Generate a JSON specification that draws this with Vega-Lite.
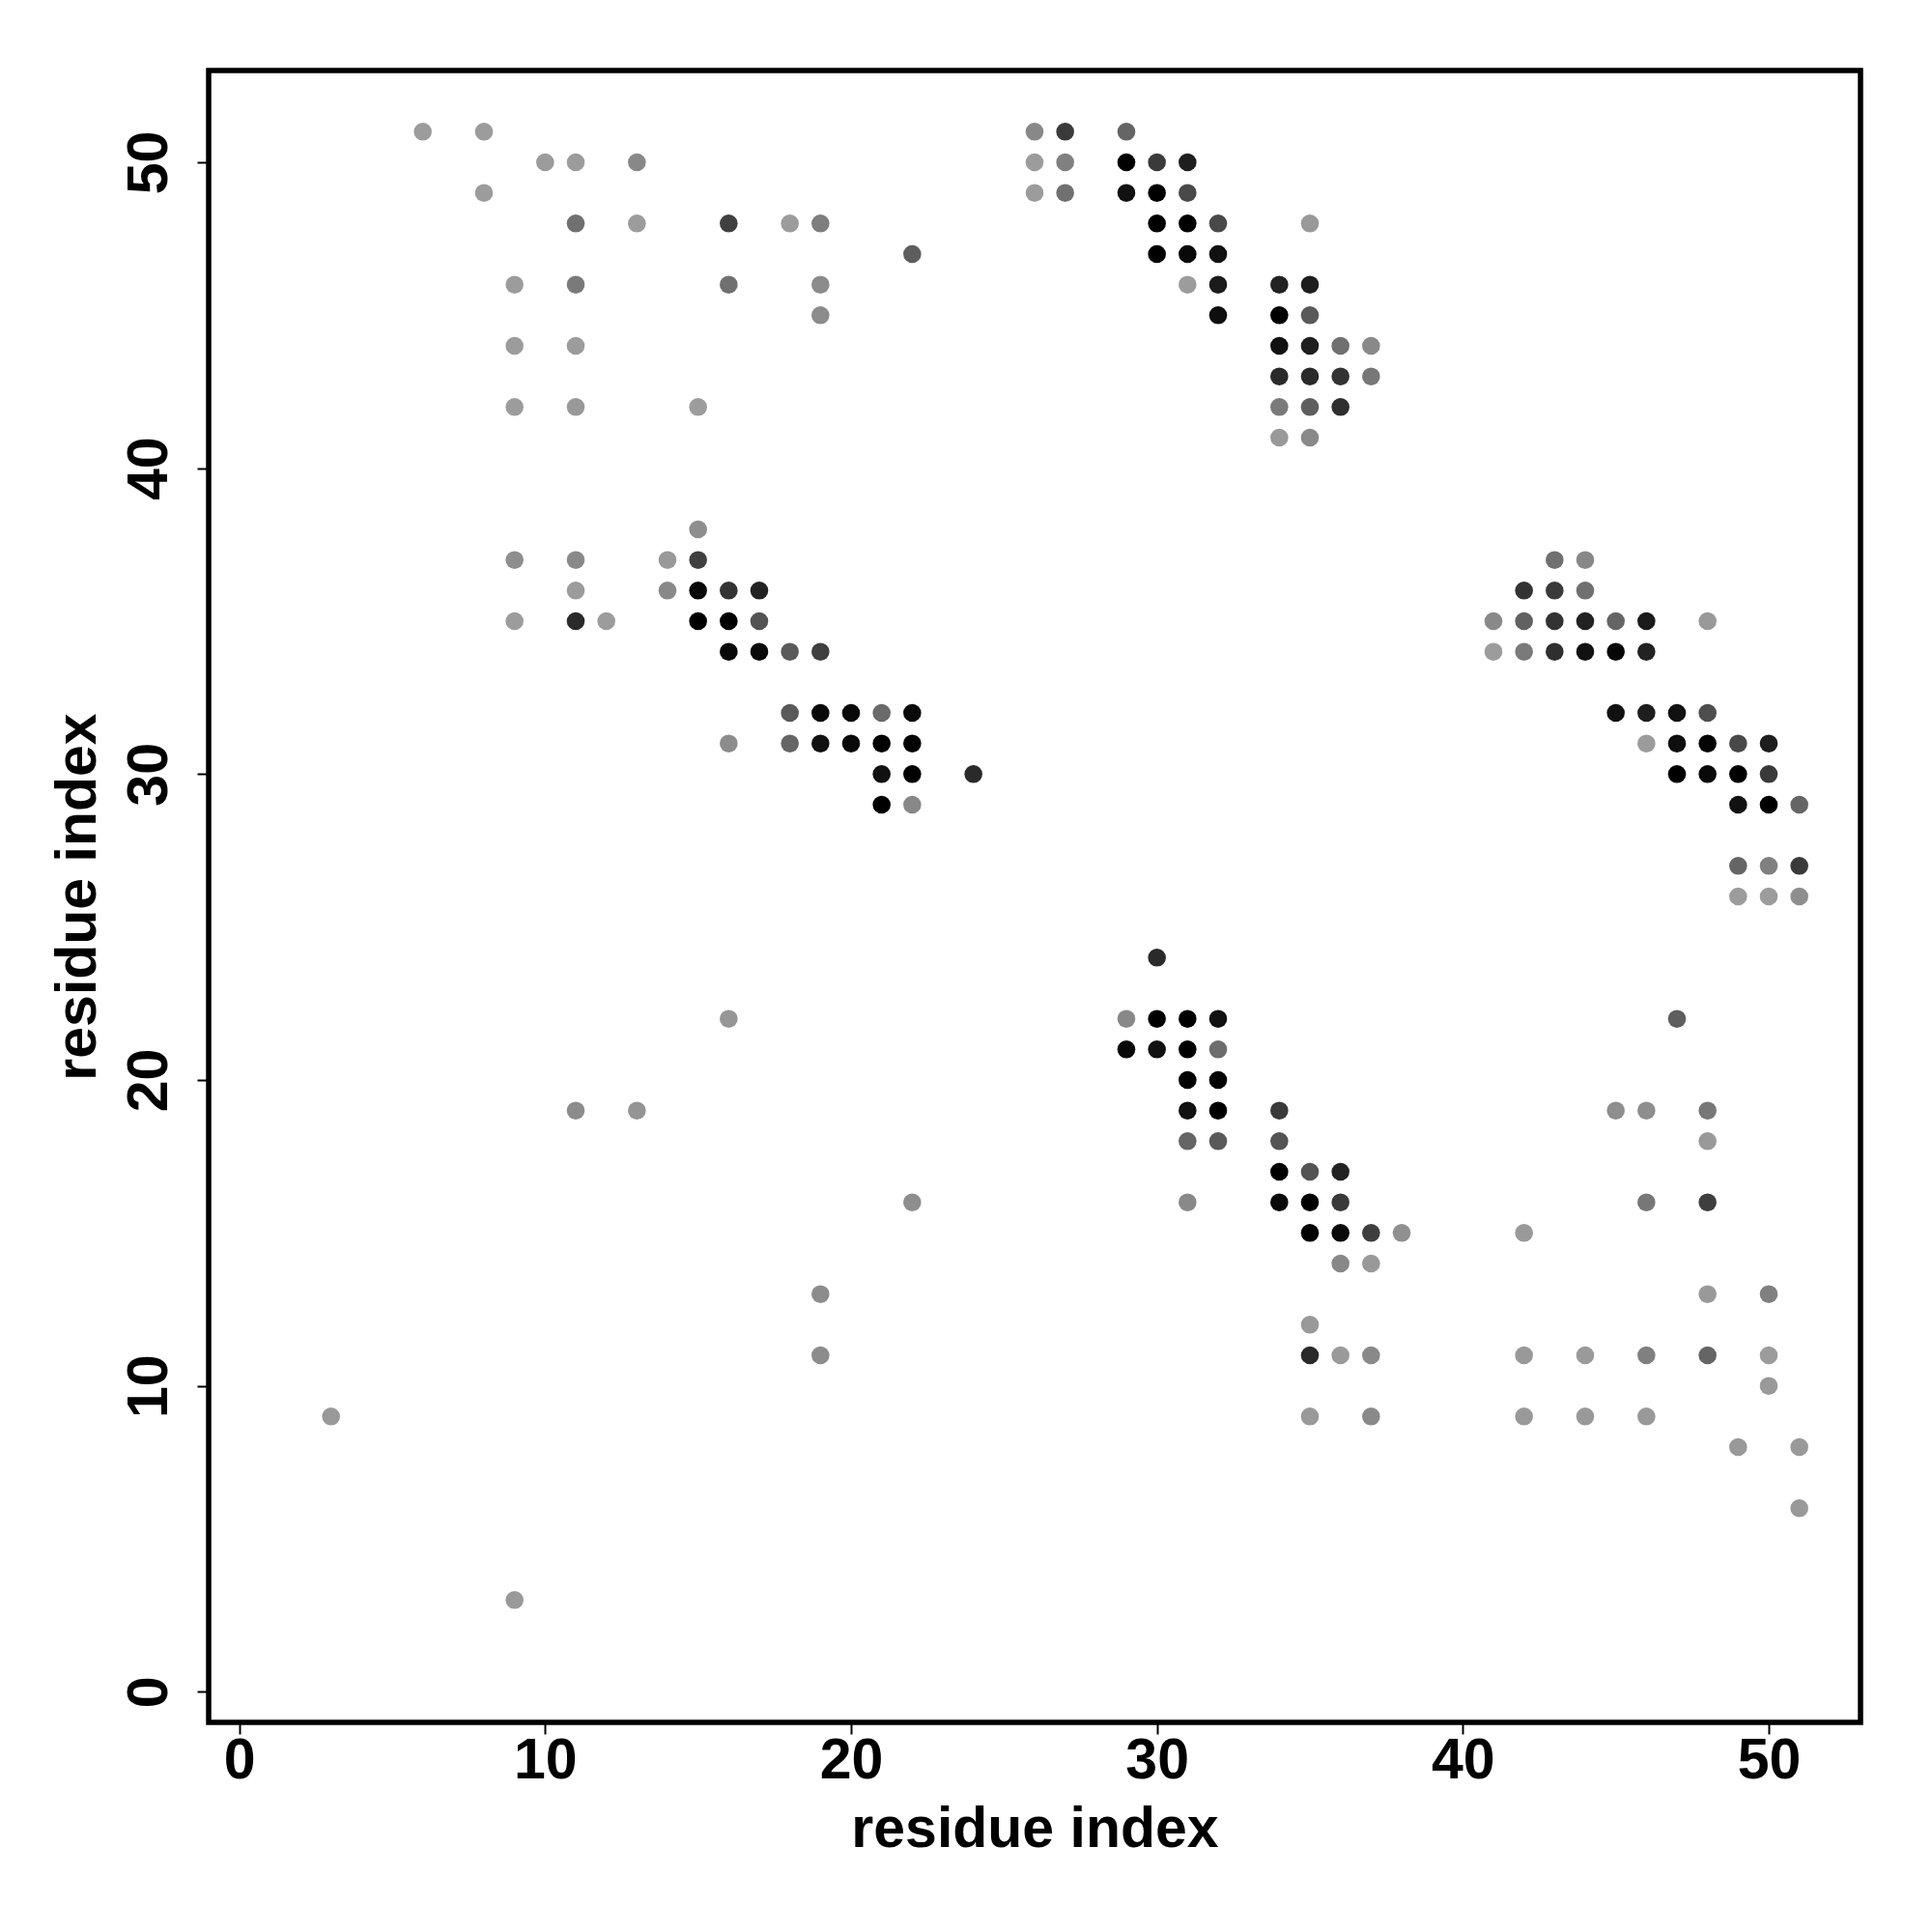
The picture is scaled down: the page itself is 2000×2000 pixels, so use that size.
{
  "$schema": "https://vega.github.io/schema/vega-lite/v6.json",
  "autosize": {"type": "none"},
  "padding": {"left": 216, "top": 73, "right": 74, "bottom": 217},
  "width": 1710,
  "height": 1710,
  "background": "white",
  "config": {
    "font": "Liberation Sans",
    "view": {"stroke": "black", "strokeWidth": 5.5},
    "axis": {
      "grid": false,
      "domain": false,
      "tickColor": "black",
      "tickSize": 12,
      "tickWidth": 2,
      "labelColor": "black",
      "labelFont": "Liberation Sans",
      "labelFontWeight": "bold",
      "labelFontSize": 59,
      "labelFlush": false,
      "labelOverlap": false,
      "titleColor": "black",
      "titleFont": "Liberation Sans",
      "titleFontWeight": "bold",
      "titleFontSize": 59
    }
  },
  "data": {"values": [
    {"x":6,"y":51,"p":0.0},{"x":8,"y":51,"p":0.0},{"x":26,"y":51,"p":0.13},{"x":27,"y":51,"p":0.63},{"x":29,"y":51,"p":0.35},
    {"x":10,"y":50,"p":0.0},{"x":11,"y":50,"p":0.0},{"x":13,"y":50,"p":0.13},{"x":26,"y":50,"p":0.0},{"x":27,"y":50,"p":0.18},{"x":29,"y":50,"p":1.0},{"x":30,"y":50,"p":0.63},{"x":31,"y":50,"p":0.81},
    {"x":8,"y":49,"p":0.0},{"x":26,"y":49,"p":0.0},{"x":27,"y":49,"p":0.28},{"x":29,"y":49,"p":0.89},{"x":30,"y":49,"p":1.0},{"x":31,"y":49,"p":0.53},
    {"x":11,"y":48,"p":0.28},{"x":13,"y":48,"p":0.0},{"x":16,"y":48,"p":0.59},{"x":18,"y":48,"p":0.0},{"x":19,"y":48,"p":0.19},{"x":30,"y":48,"p":1.0},{"x":31,"y":48,"p":1.0},{"x":32,"y":48,"p":0.53},{"x":35,"y":48,"p":0.02},
    {"x":22,"y":47,"p":0.4},{"x":30,"y":47,"p":1.0},{"x":31,"y":47,"p":0.94},{"x":32,"y":47,"p":0.89},
    {"x":9,"y":46,"p":0.0},{"x":11,"y":46,"p":0.22},{"x":16,"y":46,"p":0.28},{"x":19,"y":46,"p":0.1},{"x":31,"y":46,"p":0.0},{"x":32,"y":46,"p":0.83},{"x":34,"y":46,"p":0.78},{"x":35,"y":46,"p":0.81},
    {"x":19,"y":45,"p":0.1},{"x":32,"y":45,"p":0.91},{"x":34,"y":45,"p":1.0},{"x":35,"y":45,"p":0.42},
    {"x":9,"y":44,"p":0.0},{"x":11,"y":44,"p":0.0},{"x":34,"y":44,"p":0.89},{"x":35,"y":44,"p":0.81},{"x":36,"y":44,"p":0.28},{"x":37,"y":44,"p":0.12},
    {"x":34,"y":43,"p":0.73},{"x":35,"y":43,"p":0.73},{"x":36,"y":43,"p":0.67},{"x":37,"y":43,"p":0.24},
    {"x":9,"y":42,"p":0.0},{"x":11,"y":42,"p":0.02},{"x":15,"y":42,"p":0.0},{"x":34,"y":42,"p":0.22},{"x":35,"y":42,"p":0.4},{"x":36,"y":42,"p":0.7},
    {"x":34,"y":41,"p":0.02},{"x":35,"y":41,"p":0.12},
    {"x":15,"y":38,"p":0.09},
    {"x":9,"y":37,"p":0.09},{"x":11,"y":37,"p":0.12},{"x":14,"y":37,"p":0.02},{"x":15,"y":37,"p":0.59},{"x":43,"y":37,"p":0.28},{"x":44,"y":37,"p":0.13},
    {"x":11,"y":36,"p":0.0},{"x":14,"y":36,"p":0.12},{"x":15,"y":36,"p":0.94},{"x":16,"y":36,"p":0.67},{"x":17,"y":36,"p":0.78},{"x":42,"y":36,"p":0.67},{"x":43,"y":36,"p":0.63},{"x":44,"y":36,"p":0.28},
    {"x":9,"y":35,"p":0.0},{"x":11,"y":35,"p":0.73},{"x":12,"y":35,"p":0.0},{"x":15,"y":35,"p":1.0},{"x":16,"y":35,"p":1.0},{"x":17,"y":35,"p":0.46},{"x":41,"y":35,"p":0.12},{"x":42,"y":35,"p":0.38},{"x":43,"y":35,"p":0.67},{"x":44,"y":35,"p":0.78},{"x":45,"y":35,"p":0.35},{"x":46,"y":35,"p":0.83},{"x":48,"y":35,"p":0.02},
    {"x":16,"y":34,"p":0.94},{"x":17,"y":34,"p":0.94},{"x":18,"y":34,"p":0.42},{"x":19,"y":34,"p":0.59},{"x":41,"y":34,"p":0.0},{"x":42,"y":34,"p":0.22},{"x":43,"y":34,"p":0.7},{"x":44,"y":34,"p":0.89},{"x":45,"y":34,"p":0.96},{"x":46,"y":34,"p":0.78},
    {"x":18,"y":32,"p":0.42},{"x":19,"y":32,"p":0.94},{"x":20,"y":32,"p":0.94},{"x":21,"y":32,"p":0.32},{"x":22,"y":32,"p":0.94},{"x":45,"y":32,"p":0.89},{"x":46,"y":32,"p":0.81},{"x":47,"y":32,"p":0.89},{"x":48,"y":32,"p":0.5},
    {"x":16,"y":31,"p":0.1},{"x":18,"y":31,"p":0.35},{"x":19,"y":31,"p":0.89},{"x":20,"y":31,"p":0.94},{"x":21,"y":31,"p":1.0},{"x":22,"y":31,"p":1.0},{"x":46,"y":31,"p":0.0},{"x":47,"y":31,"p":0.91},{"x":48,"y":31,"p":0.97},{"x":49,"y":31,"p":0.53},{"x":50,"y":31,"p":0.81},
    {"x":21,"y":30,"p":0.89},{"x":22,"y":30,"p":1.0},{"x":24,"y":30,"p":0.73},{"x":47,"y":30,"p":1.0},{"x":48,"y":30,"p":0.94},{"x":49,"y":30,"p":1.0},{"x":50,"y":30,"p":0.63},
    {"x":21,"y":29,"p":1.0},{"x":22,"y":29,"p":0.13},{"x":49,"y":29,"p":0.89},{"x":50,"y":29,"p":1.0},{"x":51,"y":29,"p":0.35},
    {"x":49,"y":27,"p":0.35},{"x":50,"y":27,"p":0.18},{"x":51,"y":27,"p":0.63},
    {"x":49,"y":26,"p":0.0},{"x":50,"y":26,"p":0.0},{"x":51,"y":26,"p":0.09},
    {"x":30,"y":24,"p":0.73},
    {"x":16,"y":22,"p":0.04},{"x":29,"y":22,"p":0.13},{"x":30,"y":22,"p":1.0},{"x":31,"y":22,"p":1.0},{"x":32,"y":22,"p":0.89},{"x":47,"y":22,"p":0.4},
    {"x":29,"y":21,"p":0.94},{"x":30,"y":21,"p":0.89},{"x":31,"y":21,"p":1.0},{"x":32,"y":21,"p":0.3},
    {"x":31,"y":20,"p":1.0},{"x":32,"y":20,"p":1.0},
    {"x":11,"y":19,"p":0.1},{"x":13,"y":19,"p":0.05},{"x":31,"y":19,"p":0.89},{"x":32,"y":19,"p":1.0},{"x":34,"y":19,"p":0.63},{"x":45,"y":19,"p":0.09},{"x":46,"y":19,"p":0.09},{"x":48,"y":19,"p":0.24},
    {"x":31,"y":18,"p":0.35},{"x":32,"y":18,"p":0.42},{"x":34,"y":18,"p":0.46},{"x":48,"y":18,"p":0.02},
    {"x":34,"y":17,"p":1.0},{"x":35,"y":17,"p":0.46},{"x":36,"y":17,"p":0.78},
    {"x":22,"y":16,"p":0.09},{"x":31,"y":16,"p":0.12},{"x":34,"y":16,"p":0.94},{"x":35,"y":16,"p":1.0},{"x":36,"y":16,"p":0.63},{"x":46,"y":16,"p":0.24},{"x":48,"y":16,"p":0.6},
    {"x":35,"y":15,"p":1.0},{"x":36,"y":15,"p":0.94},{"x":37,"y":15,"p":0.6},{"x":38,"y":15,"p":0.08},{"x":42,"y":15,"p":0.02},
    {"x":36,"y":14,"p":0.13},{"x":37,"y":14,"p":0.02},
    {"x":19,"y":13,"p":0.1},{"x":48,"y":13,"p":0.02},{"x":50,"y":13,"p":0.18},
    {"x":35,"y":12,"p":0.02},
    {"x":19,"y":11,"p":0.1},{"x":35,"y":11,"p":0.73},{"x":36,"y":11,"p":0.01},{"x":37,"y":11,"p":0.12},{"x":42,"y":11,"p":0.02},{"x":44,"y":11,"p":0.01},{"x":46,"y":11,"p":0.18},{"x":48,"y":11,"p":0.35},{"x":50,"y":11,"p":0.0},
    {"x":50,"y":10,"p":0.02},
    {"x":3,"y":9,"p":0.02},{"x":35,"y":9,"p":0.02},{"x":37,"y":9,"p":0.12},{"x":42,"y":9,"p":0.02},{"x":44,"y":9,"p":0.02},{"x":46,"y":9,"p":0.02},
    {"x":49,"y":8,"p":0.02},{"x":51,"y":8,"p":0.02},
    {"x":51,"y":6,"p":0.02},
    {"x":9,"y":3,"p":0.02}
  ]},
  "mark": {"type": "circle", "size": 345, "opacity": 1},
  "encoding": {
    "x": {
      "field": "x", "type": "quantitative",
      "scale": {"domain": [-1, 53], "nice": false, "zero": false},
      "axis": {
        "values": [0, 10, 20, 30, 40, 50],
        "title": "residue index",
        "labelBaseline": "alphabetic",
        "labelPadding": 45,
        "titleBaseline": "alphabetic",
        "titleY": 128
      }
    },
    "y": {
      "field": "y", "type": "quantitative",
      "scale": {"domain": [-1, 53], "nice": false, "zero": false},
      "axis": {
        "values": [0, 10, 20, 30, 40, 50],
        "title": "residue index",
        "labelAngle": 270,
        "labelAlign": "center",
        "labelBaseline": "alphabetic",
        "labelPadding": 32,
        "titleAngle": 270,
        "titleBaseline": "alphabetic",
        "titleX": -118
      }
    },
    "color": {
      "field": "p", "type": "quantitative",
      "scale": {"domain": [0, 1], "range": ["#9c9c9c", "#000000"], "interpolate": "rgb"},
      "legend": null
    }
  }
}
